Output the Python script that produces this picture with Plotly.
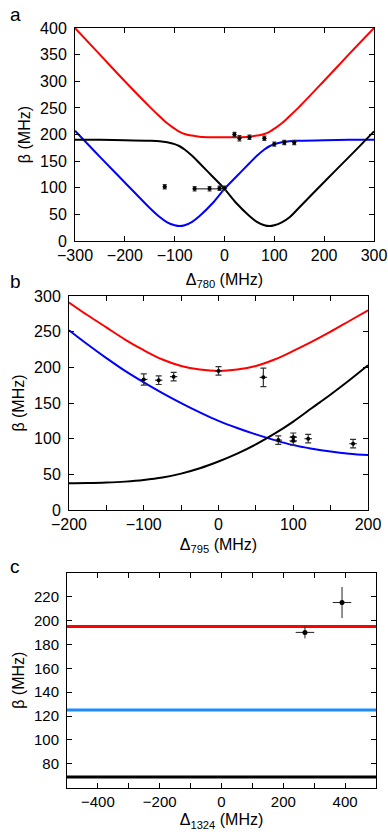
import plotly.graph_objects as go
from plotly.subplots import make_subplots

# panel a: detuning of 780 nm light
det_a = [-300, -250, -200, -150, -130, -115, -100, -90, -80, -65, -50, -25, 0,
         25, 50, 65, 80, 90, 100, 115, 130, 150, 200, 250, 300]
red_a = [400, 350, 300, 252, 234, 221, 211, 205, 201, 198, 196, 195, 195,
         195, 196, 198, 201, 205, 211, 221, 234, 252, 301, 351, 400]
blue_a = [207, 158, 110, 62, 45, 35, 29.5, 28, 29.5, 36, 47, 70, 98,
          122, 146, 160, 172, 178, 182, 185.5, 187.5, 188.5, 189.5, 190, 190]
black_a = [190, 190, 189.5, 188.5, 187.5, 185.5, 182, 178, 172, 160, 146, 122, 98,
           70, 47, 36, 29.5, 28, 29.5, 35, 44, 63, 111, 158, 206]
pts_a_x = [-120, -60, -30, -10, 0, 20, 30, 50, 80, 100, 120, 140]
pts_a_y = [102, 98, 98, 99, 99, 200, 193, 195, 193, 182, 185, 185]
pts_a_xerr = [4, 4, 30, 4, 4, 4, 4, 4, 4, 4, 4, 4]
pts_a_yerr = [4, 4, 4, 4, 4, 4, 5, 4, 4, 4, 4, 4]

# panel b: detuning of 795 nm light
det_b = [-200, -175, -150, -125, -100, -75, -50, -25, 0, 25, 50, 75, 100, 125, 150, 175, 200]
red_b = [291, 273, 256, 239, 224, 211, 202, 197, 195, 197, 202, 211, 223, 236, 250, 265, 280]
blue_b = [252, 232, 213, 195, 179, 164, 150, 137, 125, 115, 106, 98, 91, 86, 82, 79, 77]
black_b = [37.5, 37.8, 38.5, 39.8, 42, 45.5, 51, 58.5, 68, 79, 92, 107, 124, 143, 162, 182, 203]
pts_b_x = [-100, -80, -60, 0, 60, 80, 100, 100, 120, 180]
pts_b_y = [183, 182, 187, 195, 186, 98, 102, 97, 100, 93]
pts_b_yerr = [8, 6, 6, 6, 13, 6, 6, 6, 6, 6]
pts_b_xerr = [5, 5, 5, 5, 5, 5, 5, 5, 5, 5]

# panel c: detuning of 1324 nm light
det_c = [-500, 500]
red_c = [195, 195]
blue_c = [125, 125]
black_c = [69, 69]
pts_c_x = [270, 390]
pts_c_y = [190, 215]
pts_c_xerr = [30, 30]
pts_c_yerr = [5, 13]

RED = "#ff0000"
BLUE = "#0000ff"
LBLUE = "#1a8cff"
FONT = "Liberation Sans, Arial, sans-serif"

fig = make_subplots(rows=3, cols=1)

for ys, col in [(red_a, RED), (blue_a, BLUE), (black_a, "black")]:
    fig.add_trace(go.Scatter(x=det_a, y=ys, mode="lines", line=dict(color=col, width=2, shape="spline"),
                             showlegend=False), row=1, col=1)
fig.add_trace(go.Scatter(x=pts_a_x, y=pts_a_y, mode="markers", showlegend=False,
                         marker=dict(color="black", size=4),
                         error_x=dict(array=pts_a_xerr, color="#333", thickness=1.2, width=0),
                         error_y=dict(array=pts_a_yerr, color="#333", thickness=1.2, width=2)),
              row=1, col=1)

for ys, col in [(red_b, RED), (blue_b, BLUE), (black_b, "black")]:
    fig.add_trace(go.Scatter(x=det_b, y=ys, mode="lines", line=dict(color=col, width=2, shape="spline"),
                             showlegend=False), row=2, col=1)
fig.add_trace(go.Scatter(x=pts_b_x, y=pts_b_y, mode="markers", showlegend=False,
                         marker=dict(color="black", size=4),
                         error_x=dict(array=pts_b_xerr, color="#333", thickness=1.2, width=0),
                         error_y=dict(array=pts_b_yerr, color="#333", thickness=1.2, width=3)),
              row=2, col=1)

for ys, col in [(red_c, RED), (blue_c, LBLUE), (black_c, "black")]:
    fig.add_trace(go.Scatter(x=det_c, y=ys, mode="lines", line=dict(color=col, width=3),
                             showlegend=False), row=3, col=1)
fig.add_trace(go.Scatter(x=pts_c_x, y=pts_c_y, mode="markers", showlegend=False,
                         marker=dict(color="black", size=5),
                         error_x=dict(array=pts_c_xerr, color="#222", thickness=1, width=0),
                         error_y=dict(array=pts_c_yerr, color="#222", thickness=1, width=0)),
              row=3, col=1)

ax = dict(showline=True, linecolor="black", linewidth=1, mirror="ticks", ticks="inside",
          ticklen=5, tickcolor="black", showgrid=False, zeroline=False, automargin=False,
          tickfont=dict(family=FONT, size=16, color="black"))
yax = dict(ax, ticklabelstandoff=4)

fig.update_layout(
    width=388, height=832, margin=dict(l=0, r=0, t=0, b=0, autoexpand=False),
    plot_bgcolor="white", paper_bgcolor="white",
    font=dict(family=FONT, color="black"),
    xaxis=dict(ax, domain=[0.1933, 0.9639], range=[-300, 300], dtick=100,
               title=dict(text="Δ<sub>780</sub> (MHz)", font=dict(size=16), standoff=10)),
    yaxis=dict(yax, domain=[0.7103, 0.9663], range=[0, 400], dtick=50,
               title=dict(text="β (MHz)", font=dict(size=16), standoff=5)),
    xaxis2=dict(ax, domain=[0.1778, 0.9485], range=[-200, 200], dtick=100,
                minor=dict(dtick=50, ticks="inside", ticklen=5, tickcolor="black"),
                title=dict(text="Δ<sub>795</sub> (MHz)", font=dict(size=16), standoff=6)),
    yaxis2=dict(yax, domain=[0.3870, 0.6442], range=[0, 300], dtick=50,
                title=dict(text="β (MHz)", font=dict(size=16), standoff=5)),
    xaxis3=dict(ax, domain=[0.1727, 0.9691], range=[-500, 500], dtick=200,
                minor=dict(dtick=100, ticks="inside", ticklen=5, tickcolor="black"),
                tickfont=dict(family=FONT, size=15, color="black"),
                title=dict(text="Δ<sub>1324</sub> (MHz)", font=dict(size=16), standoff=5)),
    yaxis3=dict(yax, domain=[0.0532, 0.3117], range=[60, 240], tickvals=[80, 100, 120, 140, 160, 180, 200, 220],
                tickfont=dict(family=FONT, size=15, color="black"),
                title=dict(text="β (MHz)", font=dict(size=16), standoff=5)),
)

for label, yy in [("a", 1 - 14 / 832), ("b", 1 - 281 / 832), ("c", 1 - 566 / 832)]:
    fig.add_annotation(text=label, x=8 / 388, y=yy, xref="paper", yref="paper", showarrow=False,
                       xanchor="left", yanchor="middle", font=dict(family=FONT, size=19, color="black"))

# drop the default 8px page margin so the figure fills the window
fig.write_html("out.html", config={"displayModeBar": False},
               post_script="document.body.style.margin='0';")
